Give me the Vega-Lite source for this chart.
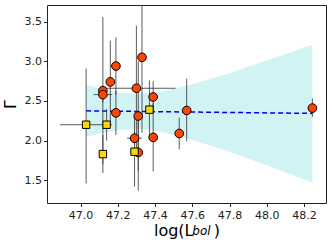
{
  "$schema": "https://vega.github.io/schema/vega-lite/v6.json",
  "width": 279,
  "height": 198,
  "autosize": {"type": "none"},
  "padding": {"left": 47, "top": 5, "right": 6, "bottom": 42},
  "background": "white",
  "config": {
    "view": {"stroke": "#222", "strokeWidth": 1},
    "font": "DejaVu Sans",
    "axis": {"grid": false, "domain": false, "tickColor": "#222", "tickSize": 3.5, "labelColor": "#222", "labelFontSize": 11, "labelFont": "DejaVu Sans", "titleFont": "DejaVu Sans", "titleFontWeight": "normal", "titleColor": "#000"}
  },
  "title": {"text": "bol", "orient": "bottom", "anchor": "middle", "fontStyle": "italic", "fontWeight": "normal", "fontSize": 12, "font": "DejaVu Sans", "color": "#000", "dx": 15, "offset": -13},
  "datasets": {
    "pts": [
      {"x": 47.12, "y": 2.63, "ylo": 1.70, "yhi": 3.56, "type": "circle"},
      {"x": 47.12, "y": 2.58, "ylo": 2.48, "yhi": 2.68, "xlo": 47.07, "xhi": 47.17, "type": "circle"},
      {"x": 47.16, "y": 2.74, "ylo": 2.22, "yhi": 3.26, "type": "circle"},
      {"x": 47.19, "y": 2.94, "ylo": 2.58, "yhi": 3.30, "type": "circle"},
      {"x": 47.33, "y": 3.05, "ylo": 2.10, "yhi": 4.00, "type": "circle"},
      {"x": 47.30, "y": 2.66, "ylo": 1.87, "yhi": 3.45, "xlo": 47.13, "xhi": 47.51, "type": "circle"},
      {"x": 47.39, "y": 2.55, "ylo": 2.35, "yhi": 2.75, "type": "circle"},
      {"x": 47.19, "y": 2.35, "ylo": 2.07, "yhi": 2.63, "type": "circle"},
      {"x": 47.31, "y": 2.31, "ylo": 1.62, "yhi": 3.00, "type": "circle"},
      {"x": 47.29, "y": 2.03, "ylo": 1.95, "yhi": 2.11, "xlo": 47.25, "xhi": 47.33, "type": "circle"},
      {"x": 47.31, "y": 1.85, "ylo": 1.37, "yhi": 2.33, "type": "circle"},
      {"x": 47.39, "y": 2.04, "ylo": 1.61, "yhi": 2.47, "type": "circle"},
      {"x": 47.57, "y": 2.38, "ylo": 1.99, "yhi": 2.78, "type": "circle"},
      {"x": 47.53, "y": 2.09, "ylo": 1.89, "yhi": 2.29, "type": "circle"},
      {"x": 48.245, "y": 2.41, "ylo": 2.30, "yhi": 2.53, "type": "circle"},
      {"x": 47.03, "y": 2.20, "ylo": 1.46, "yhi": 2.91, "xlo": 46.89, "xhi": 47.17, "type": "square"},
      {"x": 47.14, "y": 2.20, "ylo": 2.00, "yhi": 2.40, "type": "square"},
      {"x": 47.12, "y": 1.83, "ylo": 1.59, "yhi": 2.07, "type": "square"},
      {"x": 47.29, "y": 1.86, "ylo": 1.42, "yhi": 2.30, "type": "square"},
      {"x": 47.37, "y": 2.39, "ylo": 2.02, "yhi": 2.76, "type": "square"}
    ],
    "fit": [
      {"x": 47.03, "y": 2.375},
      {"x": 48.245, "y": 2.343}
    ],
    "band": [
      {"x": 47.03, "lo": 2.05, "hi": 2.70},
      {"x": 47.10, "lo": 2.09, "hi": 2.66},
      {"x": 47.20, "lo": 2.13, "hi": 2.61},
      {"x": 47.30, "lo": 2.15, "hi": 2.59},
      {"x": 47.40, "lo": 2.13, "hi": 2.60},
      {"x": 47.60, "lo": 2.01, "hi": 2.71},
      {"x": 47.80, "lo": 1.86, "hi": 2.85},
      {"x": 48.00, "lo": 1.69, "hi": 3.01},
      {"x": 48.245, "lo": 1.47, "hi": 3.21}
    ]
  },
  "encoding": {
    "x": {"type": "quantitative", "scale": {"domain": [46.82, 48.318], "nice": false, "zero": false},
      "axis": {"values": [47.0, 47.2, 47.4, 47.6, 47.8, 48.0, 48.2], "format": ".1f", "labelPadding": 3, "title": "log(L\u00a0\u00a0\u00a0\u00a0)", "titleFontSize": 16, "titlePadding": 2}},
    "y": {"type": "quantitative", "scale": {"domain": [1.213, 3.71], "nice": false, "zero": false},
      "axis": {"values": [1.5, 2.0, 2.5, 3.0, 3.5], "format": ".1f", "labelPadding": 2, "title": "Γ", "titleFontSize": 16, "titlePadding": 6}}
  },
  "layer": [
    {
      "data": {"name": "band"},
      "mark": {"type": "area", "color": "#00bfbf", "opacity": 0.18},
      "encoding": {"x": {"field": "x"}, "y": {"field": "lo"}, "y2": {"field": "hi"}}
    },
    {
      "data": {"name": "fit"},
      "mark": {"type": "line", "color": "#0000ff", "strokeWidth": 1.5, "strokeDash": [5, 3]},
      "encoding": {"x": {"field": "x"}, "y": {"field": "y"}}
    },
    {
      "data": {"name": "pts"},
      "mark": {"type": "rule", "color": "#333", "strokeWidth": 1, "opacity": 0.8, "clip": true},
      "encoding": {"x": {"field": "x"}, "y": {"field": "ylo"}, "y2": {"field": "yhi"}}
    },
    {
      "data": {"name": "pts"},
      "transform": [{"filter": "isValid(datum.xlo)"}],
      "mark": {"type": "rule", "color": "#333", "strokeWidth": 1, "opacity": 0.8, "clip": true},
      "encoding": {"x": {"field": "xlo"}, "x2": {"field": "xhi"}, "y": {"field": "y"}}
    },
    {
      "data": {"name": "pts"},
      "transform": [{"filter": "datum.type === 'circle'"}],
      "mark": {"type": "point", "shape": "circle", "filled": true, "fill": "#ff4500", "stroke": "#000", "strokeWidth": 1, "size": 75, "opacity": 1},
      "encoding": {"x": {"field": "x"}, "y": {"field": "y"}}
    },
    {
      "data": {"name": "pts"},
      "transform": [{"filter": "datum.type === 'square'"}],
      "mark": {"type": "point", "shape": "square", "filled": true, "fill": "#ffd700", "stroke": "#000", "strokeWidth": 1, "size": 55, "opacity": 1},
      "encoding": {"x": {"field": "x"}, "y": {"field": "y"}}
    }
  ]
}
